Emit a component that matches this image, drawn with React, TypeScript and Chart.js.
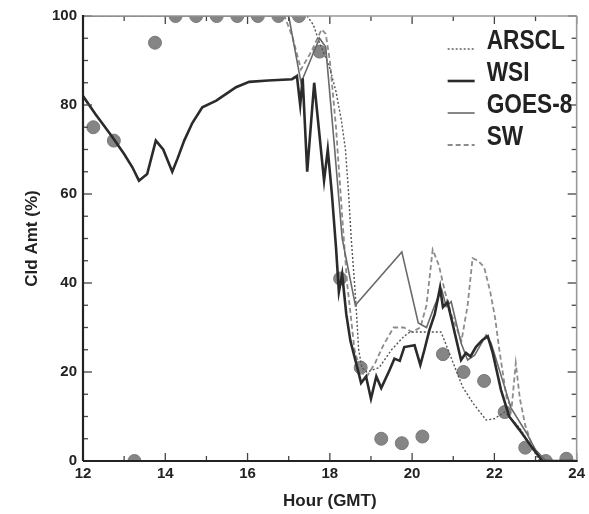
import React, { useEffect, useRef } from 'react';
import { Chart, registerables } from 'chart.js';

Chart.register(...registerables);

const FONT = '"Liberation Sans", Arial, sans-serif';

// ---- data (hour GMT, cloud amount %) ----
const wsiHours = [12.0, 12.3, 12.7, 13.0, 13.2, 13.36, 13.56, 13.77, 13.95, 14.17, 14.3, 14.46, 14.66, 14.9, 15.24, 15.48, 15.72, 16.04, 16.5,
  17.08, 17.2, 17.28, 17.34, 17.45, 17.62, 17.86, 17.95, 18.05, 18.15, 18.22, 18.3, 18.4, 18.5,
  18.64, 18.76, 18.88, 19.0, 19.13, 19.25, 19.45, 19.57, 19.7, 19.81, 20.06, 20.2, 20.3, 20.42, 20.55, 20.68, 20.75, 20.86, 20.98,
  21.19, 21.31, 21.42, 21.55, 21.71, 21.84, 21.96, 22.16, 22.36, 22.61, 22.92, 23.17, 24.0];
const wsiValues = [82, 78, 73, 69, 66, 63, 64.5, 72, 70, 65, 68, 72, 76, 79.5, 81, 82.5, 84, 85.2, 85.5,
  85.8, 86.5, 80, 86, 65, 85, 63, 70, 60, 48, 38, 42, 33, 27,
  22, 17.5, 19, 14, 19, 16.4, 20.4, 23, 22.5, 25.6, 26, 21.6, 25, 29.4, 33, 39, 34.6, 35.7, 31,
  22.7, 24.3, 23.5, 25.6, 27.2, 28, 24.3, 16, 10, 7, 3, 0, 0];

const goesHours = [12, 17.0, 17.3, 17.75, 17.9, 18.1, 18.3, 18.62, 19.75, 20.15, 20.35, 20.55, 20.72, 20.83, 20.95, 21.19, 21.35, 21.52, 21.8, 21.92, 22.25, 22.4, 22.78, 23.0, 23.26, 24];
const goesValues = [100, 100, 85, 95, 93, 72, 50, 35, 47, 31, 30, 35, 38.5, 34.7, 35.8, 26.5, 22.7, 23.8, 28.3, 26.5, 16.6, 12, 6.3, 2.5, 0, 0];

const arsclHours = [12, 17.45, 17.6, 17.75, 17.99, 18.15, 18.28, 18.38, 18.45, 18.52, 18.6, 18.65, 18.7, 18.78, 18.9, 19.2, 19.5, 19.8, 19.95, 20.7,
  20.79, 21.0, 21.23, 21.48, 21.8, 22.0, 22.25, 22.6, 22.85, 23.1, 24];
const arsclValues = [100, 100, 98, 94, 88.6, 83, 76.6, 70, 61, 50, 40, 33, 25, 21, 20, 21, 25, 28, 29, 29,
  27, 22, 16.6, 13, 9.2, 9.5, 11, 7.6, 4, 0, 0];

const swHours = [12, 16.9, 17.1, 17.3, 17.55, 17.8, 17.9, 18.0, 18.15, 18.3, 18.42, 18.6, 18.75, 18.9, 19.1, 19.3, 19.55, 19.8, 20.0, 20.2,
  20.35, 20.5, 20.65, 20.8, 20.95, 21.2, 21.35, 21.47, 21.6, 21.75, 21.9, 22.02, 22.12, 22.3, 22.42, 22.52, 22.62, 22.75, 22.9, 23.05, 23.2, 24];
const swValues = [100, 100, 95, 88, 92, 97, 96, 90, 75, 55, 40, 25, 20, 19, 22, 26, 30, 30, 29, 30,
  35, 47.5, 44, 38, 33, 27, 35, 45.6, 45, 43.6, 38, 32, 25, 14, 12, 22, 14, 8, 4, 1.5, 0, 0];

const obsHours = [12.25, 12.75, 13.25, 13.75, 14.25, 14.75, 15.25, 15.75, 16.25, 16.75, 17.25, 17.75, 18.25, 18.75, 19.25, 19.75, 20.25, 20.75, 21.25, 21.75, 22.25, 22.75, 23.25, 23.75];
const obsValues = [75, 72, 0, 94, 100, 100, 100, 100, 100, 100, 100, 92, 41, 21, 5, 4, 5.5, 24, 20, 18, 11, 3, 0, 0.5];

const seriesNames = ['ARSCL', 'WSI', 'GOES-8', 'SW'];
const xLabelTicks = [12, 14, 16, 18, 20, 22, 24];
const yLabelTicks = [0, 20, 40, 60, 80, 100];

const toPts = (xs: number[], ys: number[]) => xs.map((x, i) => ({ x, y: ys[i] }));

const framePlugin = {
  id: 'frame',
  afterDraw(chart: any) {
    const { ctx, chartArea: a } = chart;
    const xs = chart.scales.x;
    const ys = chart.scales.y;
    const seg = (x1: number, y1: number, x2: number, y2: number) => {
      ctx.beginPath();
      ctx.moveTo(x1, y1);
      ctx.lineTo(x2, y2);
      ctx.stroke();
    };
    ctx.save();
    ctx.strokeStyle = '#444';
    ctx.lineWidth = 1.3;
    xs.ticks.forEach((t: any) => {
      const px = xs.getPixelForValue(t.value);
      const len = xLabelTicks.includes(t.value) ? 8 : 5;
      seg(px, a.bottom, px, a.bottom - len);
      seg(px, a.top, px, a.top + len);
    });
    ys.ticks.forEach((t: any) => {
      const py = ys.getPixelForValue(t.value);
      const len = yLabelTicks.includes(t.value) ? 9 : 5;
      seg(a.left, py, a.left + len, py);
      seg(a.right, py, a.right - len, py);
    });
    // frame
    ctx.strokeStyle = '#999';
    ctx.lineWidth = 1.6;
    seg(a.left, a.top, a.right, a.top);
    seg(a.right, a.top, a.right, a.bottom);
    ctx.strokeStyle = '#222';
    ctx.lineWidth = 2.2;
    seg(a.left, a.top - 1, a.left, a.bottom);
    seg(a.left, a.bottom, a.right + 1, a.bottom);

    // legend
    const lx0 = a.right - 129;
    const lx1 = a.right - 102;
    const tx = a.right - 90;
    seriesNames.forEach((name, i) => {
      const ds = chart.data.datasets.find((d: any) => d.label === name);
      const cy = a.top + 26 + i * 32;
      ctx.save();
      ctx.translate(tx, cy);
      ctx.scale(0.84, 1);
      ctx.font = `bold 27px ${FONT}`;
      ctx.textBaseline = 'middle';
      ctx.textAlign = 'left';
      ctx.fillStyle = '#222';
      ctx.fillText(name, 0, 0);
      ctx.restore();
      ctx.save();
      ctx.strokeStyle = ds.borderColor;
      ctx.lineWidth = ds.borderWidth;
      ctx.setLineDash(ds.borderDash || []);
      seg(lx0, cy + 7, lx1, cy + 7);
      ctx.restore();
    });
    ctx.restore();
  },
};

export default function App() {
  const canvasRef = useRef<HTMLCanvasElement | null>(null);

  useEffect(() => {
    const canvas = canvasRef.current;
    if (!canvas) return;
    const tickFont = { family: FONT, size: 15, weight: 'bold' as const };
    const titleFont = { family: FONT, size: 17, weight: 'bold' as const };
    const chart = new Chart(canvas, {
      type: 'line',
      data: {
        datasets: [
          {
            label: 'WSI',
            data: toPts(wsiHours, wsiValues),
            borderColor: '#2b2b2b',
            borderWidth: 2.6,
            pointRadius: 0,
            tension: 0,
            order: 1,
          },
          {
            label: 'GOES-8',
            data: toPts(goesHours, goesValues),
            borderColor: '#6a6a6a',
            borderWidth: 1.6,
            pointRadius: 0,
            tension: 0,
            order: 2,
          },
          {
            label: 'ARSCL',
            data: toPts(arsclHours, arsclValues),
            borderColor: '#555555',
            borderWidth: 1.4,
            borderDash: [2, 2],
            pointRadius: 0,
            tension: 0,
            order: 3,
          },
          {
            label: 'SW',
            data: toPts(swHours, swValues),
            borderColor: '#8c8c8c',
            borderWidth: 1.8,
            borderDash: [5, 3],
            pointRadius: 0,
            tension: 0,
            order: 4,
          },
          {
            label: 'Obs',
            data: toPts(obsHours, obsValues),
            showLine: false,
            pointRadius: 6.5,
            pointBackgroundColor: '#858585',
            pointBorderColor: '#7a7a7a',
            pointBorderWidth: 1,
            order: 5,
          },
        ],
      },
      options: {
        responsive: false,
        animation: false,
        devicePixelRatio: 1,
        layout: { padding: { left: 0, top: 16, right: 12, bottom: 0 } },
        plugins: { legend: { display: false }, tooltip: { enabled: false } },
        scales: {
          x: {
            type: 'linear',
            min: 12,
            max: 24,
            grid: { display: false, drawTicks: false },
            border: { display: false },
            ticks: {
              stepSize: 1,
              autoSkip: false,
              maxRotation: 0,
              padding: 4,
              color: '#222',
              font: tickFont,
              callback: (v: any) => (xLabelTicks.includes(v) ? String(v) : ''),
            },
            title: {
              display: true,
              text: 'Hour (GMT)',
              color: '#222',
              font: titleFont,
              padding: { top: 0, bottom: 2 },
            },
            afterFit: (s: any) => {
              s.height = 53;
            },
          },
          y: {
            type: 'linear',
            min: 0,
            max: 100,
            grid: { display: false, drawTicks: false },
            border: { display: false },
            ticks: {
              stepSize: 5,
              autoSkip: false,
              padding: 6,
              color: '#222',
              font: tickFont,
              callback: (v: any) => (yLabelTicks.includes(v) ? String(v) : ''),
            },
            title: {
              display: true,
              text: 'Cld Amt (%)',
              color: '#222',
              font: titleFont,
              padding: { top: 22, bottom: 0 },
            },
            afterFit: (s: any) => {
              s.width = 83;
            },
          },
        },
      },
      plugins: [framePlugin],
    });
    return () => chart.destroy();
  }, []);

  return (
    <div style={{ position: 'fixed', left: 0, top: 0, width: 589, height: 514, background: '#fff' }}>
      <canvas ref={canvasRef} width={589} height={514} style={{ width: 589, height: 514, display: 'block' }} />
    </div>
  );
}
